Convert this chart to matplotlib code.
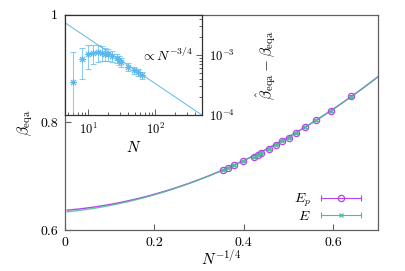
import matplotlib
matplotlib.use("Agg")
import matplotlib.pyplot as plt
import numpy as np
from matplotlib.lines import Line2D
from matplotlib.legend_handler import HandlerLine2D, HandlerTuple
from matplotlib.ticker import FuncFormatter, LogLocator

plt.rcParams["font.family"] = "serif"
plt.rcParams["font.serif"] = ["cmr10", "DejaVu Serif"]
plt.rcParams["mathtext.fontset"] = "cm"
plt.rcParams["axes.unicode_minus"] = False
plt.rcParams["axes.formatter.use_mathtext"] = True
plt.rcParams["font.size"] = 8

# --- data ---
N = [6, 8, 10, 12, 14, 16, 18, 20, 23, 27, 29, 31, 40, 49, 56, 64]
beta_Ep = [0.849, 0.822, 0.805, 0.792, 0.780, 0.772, 0.766, 0.759,
           0.750, 0.744, 0.740, 0.735, 0.728, 0.721, 0.716, 0.712]
beta_E = [0.848, 0.822, 0.804, 0.792, 0.780, 0.771, 0.766, 0.759,
          0.750, 0.744, 0.740, 0.735, 0.728, 0.721, 0.716, 0.711]
beta_err = [0.002, 0.002, 0.002, 0.002, 0.001, 0.001, 0.001, 0.001,
            0.001, 0.001, 0.001, 0.001, 0.001, 0.001, 0.001, 0.001]
# quadratic fits a + b x + c x^2 in x = N^(-1/4)
fit_Ep = [0.6367, 0.0672, 0.4107]
fit_E = [0.6335, 0.0809, 0.3975]

# inset: beta_hat - beta
diff = [3.6e-4, 8.5e-4, 1.03e-3, 1.08e-3, 1.10e-3, 1.08e-3, 1.05e-3, 1.02e-3,
        9.6e-4, 8.8e-4, 8.2e-4, 7.6e-4, 6.4e-4, 5.6e-4, 5.1e-4, 4.6e-4]
diff_err = [7.4e-4, 4.5e-4, 4.4e-4, 3.8e-4, 3.5e-4, 3.0e-4, 2.6e-4, 2.3e-4,
            2.0e-4, 1.6e-4, 1.4e-4, 1.3e-4, 1.0e-4, 0.8e-4, 0.7e-4, 0.6e-4]
guide_prefactor = 0.0106  # C * N^(-3/4)

c_ep = "#b545ea"
c_e = "#4dbf94"
c_in = "#5ab8ea"
spine_c = "#606060"

fig = plt.figure(figsize=(4.06, 2.71), dpi=100)
ax = fig.add_axes([0.160, 0.151, 0.771, 0.794])

x = np.array(N, dtype=float) ** -0.25
xf = np.linspace(0.005, 0.7, 200)
ax.plot(xf, np.polyval(fit_Ep[::-1], xf), color=c_ep, lw=1.0, zorder=2)
ax.plot(xf, np.polyval(fit_E[::-1], xf), color=c_e, lw=1.0, alpha=0.85, zorder=3)
ax.errorbar(x, beta_Ep, yerr=beta_err, fmt="o", ms=4.5, mfc="none", mec=c_ep,
            mew=0.9, ecolor=c_ep, elinewidth=0.8, capsize=1.5, zorder=4)
ax.errorbar(x, beta_E, yerr=beta_err, fmt="x", ms=3.5, mec=c_e, mew=0.9,
            ecolor=c_e, elinewidth=0.8, capsize=1.5, zorder=5)

ax.set_xlim(0, 0.7)
ax.set_ylim(0.6, 1.0)
ax.set_xticks([0, 0.2, 0.4, 0.6])
ax.set_yticks([0.6, 0.8, 1.0])
fmt = FuncFormatter(lambda v, p: f"{v:g}")
ax.xaxis.set_major_formatter(fmt)
ax.yaxis.set_major_formatter(fmt)
ax.tick_params(direction="in", length=4, width=0.8, color=spine_c,
               labelsize=10, pad=5)
for s in ax.spines.values():
    s.set_color(spine_c)
    s.set_linewidth(0.9)
ax.set_xlabel(r"$N^{-1/4}$", fontsize=11, labelpad=0)
ax.set_ylabel(r"$\beta_{\rm eqa}$", fontsize=11, labelpad=4)

# legend: marker over horizontal bar with caps
bar_ep = Line2D([], [], color=c_ep, lw=0.8, marker="|", ms=5, mew=0.8)
bar_e = Line2D([], [], color=c_e, lw=0.8, marker="|", ms=5, mew=0.8)
mk_ep = Line2D([], [], ls="none", marker="o", ms=4.5, mfc="none", mec=c_ep, mew=0.9)
mk_e = Line2D([], [], ls="none", marker="x", ms=3.5, mec=c_e, mew=0.9)
hmap = {bar_ep: HandlerLine2D(numpoints=2), bar_e: HandlerLine2D(numpoints=2),
        mk_ep: HandlerLine2D(numpoints=1), mk_e: HandlerLine2D(numpoints=1),
        tuple: HandlerTuple(ndivide=1, pad=0)}
ax.legend([(bar_ep, mk_ep), (bar_e, mk_e)], [r"$E_p$", r"$E$"],
          handler_map=hmap, loc="lower right", bbox_to_anchor=(0.99, -0.01),
          frameon=False, markerfirst=False, handlelength=3.5,
          handletextpad=0.4, labelspacing=0.05, fontsize=10,
          borderaxespad=0.3)

# --- inset ---
ax_in = fig.add_axes([0.160, 0.5756, 0.337, 0.369])
ax_in.set_xscale("log")
ax_in.set_yscale("log")
Nf = np.logspace(np.log10(4.5), np.log10(500), 50)
ax_in.plot(Nf, guide_prefactor * Nf ** -0.75, color=c_in, lw=0.7)
ax_in.errorbar(N, diff, yerr=diff_err, fmt="none", ecolor=c_in, alpha=0.7,
               elinewidth=0.8, capsize=2.5, capthick=0.8)
ax_in.plot(N, diff, ls="none", marker=(8, 2, 0), ms=5, mew=0.7, color=c_in)
ax_in.set_xlim(4.5, 500)
ax_in.set_ylim(1e-4, 4.6e-3)
ax_in.yaxis.tick_right()
ax_in.yaxis.set_label_position("right")
ax_in.xaxis.set_major_locator(LogLocator(base=10, numticks=5))
ax_in.yaxis.set_major_locator(LogLocator(base=10, numticks=5))
ax_in.tick_params(which="both", direction="in", color=spine_c, width=0.7)
ax_in.tick_params(which="major", length=4, labelsize=9, pad=5)
ax_in.tick_params(which="minor", length=2)
for s in ax_in.spines.values():
    s.set_color("#303030")
    s.set_linewidth(0.9)
ax_in.set_xlabel(r"$N$", fontsize=11, labelpad=2)
ax_in.set_ylabel(r"$\hat{\beta}_{\rm eqa}-\beta_{\rm eqa}$", fontsize=11)
ax_in.yaxis.set_label_coords(1.38, 0.5)
ax_in.text(0.935, 0.6, r"$\propto N^{-3/4}$", transform=ax_in.transAxes,
           ha="right", va="center", fontsize=10)

fig.savefig("out.png", dpi=100)
